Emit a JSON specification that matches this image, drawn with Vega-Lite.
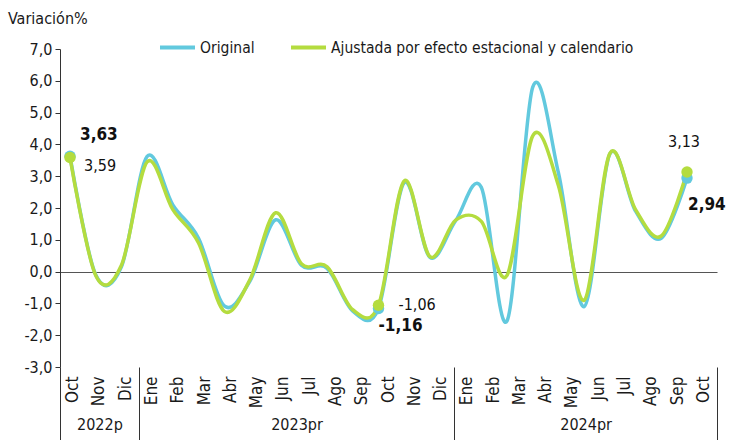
{
  "$schema": "https://vega.github.io/schema/vega-lite/v6.json",
  "width": 657,
  "height": 318,
  "autosize": {"type": "none"},
  "padding": {"left": 60, "top": 49, "right": 26, "bottom": 73},
  "background": "white",
  "config": {
    "locale": {"number": {"decimal": ",", "thousands": ".", "grouping": [3], "currency": ["", ""], "minus": "-"}},
    "font": "DejaVu Sans Condensed, sans-serif",
    "view": {"stroke": null},
    "axis": {"labelFont": "DejaVu Sans Condensed, sans-serif", "labelColor": "#1a1a1a"},
    "legend": {"labelFont": "DejaVu Sans Condensed, sans-serif"},
    "text": {"font": "DejaVu Sans Condensed, sans-serif", "color": "#111"}
  },
  "title": {"text": "Variación%", "anchor": "start", "frame": "group", "dx": -52, "offset": 1, "fontSize": 16, "fontWeight": "normal", "color": "#1a1a1a", "font": "DejaVu Sans Condensed, sans-serif"},
  "datasets": {
    "s": [
      {"m": "Oct 2022", "s": "Original", "v": 3.63},
      {"m": "Nov 2022", "s": "Original", "v": -0.1},
      {"m": "Dic 2022", "s": "Original", "v": 0.15},
      {"m": "Ene 2023", "s": "Original", "v": 3.62},
      {"m": "Feb 2023", "s": "Original", "v": 2.1},
      {"m": "Mar 2023", "s": "Original", "v": 1.05},
      {"m": "Abr 2023", "s": "Original", "v": -1.08},
      {"m": "May 2023", "s": "Original", "v": -0.3},
      {"m": "Jun 2023", "s": "Original", "v": 1.63},
      {"m": "Jul 2023", "s": "Original", "v": 0.2},
      {"m": "Ago 2023", "s": "Original", "v": 0.1},
      {"m": "Sep 2023", "s": "Original", "v": -1.24},
      {"m": "Oct 2023", "s": "Original", "v": -1.16},
      {"m": "Nov 2023", "s": "Original", "v": 2.8},
      {"m": "Dic 2023", "s": "Original", "v": 0.45},
      {"m": "Ene 2024", "s": "Original", "v": 1.6},
      {"m": "Feb 2024", "s": "Original", "v": 2.65},
      {"m": "Mar 2024", "s": "Original", "v": -1.55},
      {"m": "Abr 2024", "s": "Original", "v": 5.8},
      {"m": "May 2024", "s": "Original", "v": 3.1},
      {"m": "Jun 2024", "s": "Original", "v": -1.1},
      {"m": "Jul 2024", "s": "Original", "v": 3.7},
      {"m": "Ago 2024", "s": "Original", "v": 1.9},
      {"m": "Sep 2024", "s": "Original", "v": 1.05},
      {"m": "Oct 2024", "s": "Original", "v": 2.94},
      {"m": "Oct 2022", "s": "Ajustada por efecto estacional y calendario", "v": 3.59},
      {"m": "Nov 2022", "s": "Ajustada por efecto estacional y calendario", "v": -0.12},
      {"m": "Dic 2022", "s": "Ajustada por efecto estacional y calendario", "v": 0.2},
      {"m": "Ene 2023", "s": "Ajustada por efecto estacional y calendario", "v": 3.45},
      {"m": "Feb 2023", "s": "Ajustada por efecto estacional y calendario", "v": 1.95},
      {"m": "Mar 2023", "s": "Ajustada por efecto estacional y calendario", "v": 0.9},
      {"m": "Abr 2023", "s": "Ajustada por efecto estacional y calendario", "v": -1.25},
      {"m": "May 2023", "s": "Ajustada por efecto estacional y calendario", "v": -0.25},
      {"m": "Jun 2023", "s": "Ajustada por efecto estacional y calendario", "v": 1.85},
      {"m": "Jul 2023", "s": "Ajustada por efecto estacional y calendario", "v": 0.25},
      {"m": "Ago 2023", "s": "Ajustada por efecto estacional y calendario", "v": 0.15},
      {"m": "Sep 2023", "s": "Ajustada por efecto estacional y calendario", "v": -1.2},
      {"m": "Oct 2023", "s": "Ajustada por efecto estacional y calendario", "v": -1.06},
      {"m": "Nov 2023", "s": "Ajustada por efecto estacional y calendario", "v": 2.85},
      {"m": "Dic 2023", "s": "Ajustada por efecto estacional y calendario", "v": 0.47},
      {"m": "Ene 2024", "s": "Ajustada por efecto estacional y calendario", "v": 1.62},
      {"m": "Feb 2024", "s": "Ajustada por efecto estacional y calendario", "v": 1.58},
      {"m": "Mar 2024", "s": "Ajustada por efecto estacional y calendario", "v": -0.12},
      {"m": "Abr 2024", "s": "Ajustada por efecto estacional y calendario", "v": 4.27},
      {"m": "May 2024", "s": "Ajustada por efecto estacional y calendario", "v": 2.7},
      {"m": "Jun 2024", "s": "Ajustada por efecto estacional y calendario", "v": -0.9},
      {"m": "Jul 2024", "s": "Ajustada por efecto estacional y calendario", "v": 3.72},
      {"m": "Ago 2024", "s": "Ajustada por efecto estacional y calendario", "v": 1.95},
      {"m": "Sep 2024", "s": "Ajustada por efecto estacional y calendario", "v": 1.12},
      {"m": "Oct 2024", "s": "Ajustada por efecto estacional y calendario", "v": 3.13}
    ]
  },
  "resolve": {"scale": {"x": "independent"}},
  "layer": [
    {
      "data": {"name": "s"},
      "encoding": {
        "x": {"field": "m", "type": "ordinal", "sort": null, "scale": {"type": "point", "padding": 0.778, "align": 0.25}, "axis": null},
        "y": {"field": "v", "type": "quantitative", "scale": {"domain": [-3, 7], "nice": false, "zero": false},
          "axis": {"title": null, "values": [-3, -2, -1, 0, 1, 2, 3, 4, 5, 6, 7], "format": ".1f", "labelFontSize": 16, "tickSize": 5, "tickColor": "#333", "domainColor": "#333", "labelPadding": 3,
            "grid": true, "gridColor": "#555", "gridWidth": 1.2, "gridOpacity": {"condition": {"test": "datum.value === 0", "value": 1}, "value": 0}}}
      },
      "layer": [
        {
          "transform": [{"filter": "datum.s == 'Original'"}],
          "mark": {"type": "line", "interpolate": "cardinal", "strokeWidth": 3.5},
          "encoding": {
            "color": {"field": "s", "type": "nominal", "sort": null,
              "scale": {"domain": ["Original", "Ajustada por efecto estacional y calendario"], "range": ["#62C9DE", "#B4DC3F"]},
              "legend": {"title": null, "orient": "none", "legendX": 98, "legendY": -21, "direction": "horizontal", "symbolType": "stroke", "symbolSize": 1225, "symbolStrokeWidth": 4, "labelFontSize": 15.5, "labelOffset": 3, "columnPadding": 28, "labelLimit": 500, "labelColor": "#1a1a1a", "padding": 0}}
          }
        },
        {
          "transform": [{"filter": "datum.s != 'Original'"}],
          "mark": {"type": "line", "interpolate": "cardinal", "strokeWidth": 3.5},
          "encoding": {
            "color": {"field": "s", "type": "nominal", "sort": null}
          }
        },
        {
          "transform": [{"filter": "datum.s == 'Original' && (datum.m == 'Oct 2022' || datum.m == 'Oct 2023' || datum.m == 'Oct 2024')"}],
          "mark": {"type": "circle", "size": 130, "opacity": 1, "color": "#62C9DE"}
        },
        {
          "transform": [{"filter": "datum.s != 'Original' && (datum.m == 'Oct 2022' || datum.m == 'Oct 2023' || datum.m == 'Oct 2024')"}],
          "mark": {"type": "circle", "size": 130, "opacity": 1, "color": "#B4DC3F"}
        },
        {
          "transform": [{"filter": "datum.s == 'Original' && datum.m == 'Oct 2022'"}],
          "mark": {"type": "text", "align": "left", "baseline": "middle", "dx": 10, "dy": -21, "fontSize": 17, "fontWeight": "bold"},
          "encoding": {"text": {"field": "v", "type": "quantitative", "format": ".2f"}}
        },
        {
          "transform": [{"filter": "datum.s != 'Original' && datum.m == 'Oct 2022'"}],
          "mark": {"type": "text", "align": "left", "baseline": "middle", "dx": 14, "dy": 9, "fontSize": 16},
          "encoding": {"text": {"field": "v", "type": "quantitative", "format": ".2f"}}
        },
        {
          "transform": [{"filter": "datum.s != 'Original' && datum.m == 'Oct 2023'"}],
          "mark": {"type": "text", "align": "left", "baseline": "middle", "dx": 20, "dy": 0, "fontSize": 16},
          "encoding": {"text": {"field": "v", "type": "quantitative", "format": ".2f"}}
        },
        {
          "transform": [{"filter": "datum.s == 'Original' && datum.m == 'Oct 2023'"}],
          "mark": {"type": "text", "align": "left", "baseline": "middle", "dx": 0, "dy": 18, "fontSize": 17, "fontWeight": "bold"},
          "encoding": {"text": {"field": "v", "type": "quantitative", "format": ".2f"}}
        },
        {
          "transform": [{"filter": "datum.s != 'Original' && datum.m == 'Oct 2024'"}],
          "mark": {"type": "text", "align": "center", "baseline": "middle", "dx": -3, "dy": -30, "fontSize": 16},
          "encoding": {"text": {"field": "v", "type": "quantitative", "format": ".2f"}}
        },
        {
          "transform": [{"filter": "datum.s == 'Original' && datum.m == 'Oct 2024'"}],
          "mark": {"type": "text", "align": "left", "baseline": "middle", "dx": 1, "dy": 27, "fontSize": 17, "fontWeight": "bold"},
          "encoding": {"text": {"field": "v", "type": "quantitative", "format": ".2f"}}
        }
      ]
    },
    {
      "data": {"name": "s"},
      "transform": [{"filter": "datum.s == 'Original'"}],
      "mark": {"type": "rule", "opacity": 0},
      "encoding": {
        "x": {"field": "m", "type": "ordinal", "sort": null, "scale": {"type": "band", "paddingInner": 0, "paddingOuter": 0},
          "axis": {"orient": "bottom", "title": null, "labelAngle": -90, "labelExpr": "split(datum.value, ' ')[0]", "ticks": false, "domain": false, "labelPadding": 9, "labelFontSize": 17, "labelOverlap": false, "labelFlush": false}}
      }
    },
    {
      "data": {"values": [{"q": 0}, {"q": 25}]},
      "mark": {"type": "rule", "opacity": 0},
      "encoding": {
        "x": {"field": "q", "type": "quantitative", "scale": {"domain": [0, 25], "nice": false, "zero": false},
          "axis": {"orient": "bottom", "title": null, "values": [1.5, 9, 20], "labelExpr": "datum.value < 5 ? '2022p' : (datum.value < 15 ? '2023pr' : '2024pr')", "ticks": false, "domain": false, "labelPadding": 49, "labelFontSize": 16, "labelFlush": false, "labelOverlap": false, "grid": false}}
      }
    },
    {
      "data": {"values": [{"q": 0}, {"q": 25}]},
      "mark": {"type": "rule", "opacity": 0},
      "encoding": {
        "x": {"field": "q", "type": "quantitative", "scale": {"domain": [0, 25], "nice": false, "zero": false},
          "axis": {"orient": "bottom", "title": null, "values": [0, 3, 15, 25], "labels": false, "ticks": true, "tickSize": 76, "tickColor": "#333", "tickWidth": 1, "domain": false, "grid": false}}
      }
    }
  ]
}
